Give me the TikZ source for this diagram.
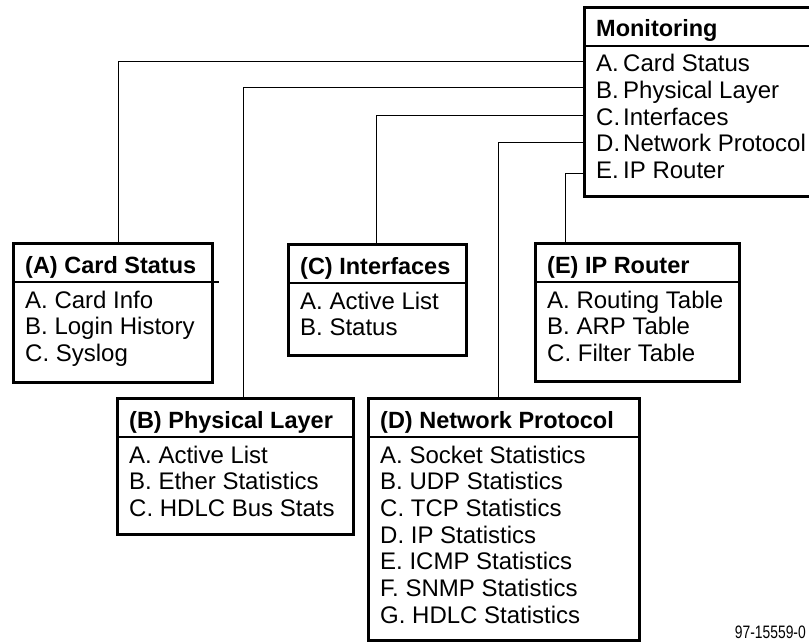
\documentclass[tikz,border=0pt]{standalone}
\usepackage{fontspec}
\setmainfont{Liberation Sans}
\begin{document}
\begin{tikzpicture}[x=1pt,y=-1pt,
  frame/.style={draw, line width=2.6pt, inner sep=0pt, anchor=north west},
  rule/.style={line width=2.2pt},
  link/.style={line width=1pt},
  head/.style={anchor=base west, inner sep=0pt, font=\fontsize{23.5}{27}\selectfont\bfseries},
  entry/.style={anchor=base west, inner sep=0pt, font=\fontsize{24}{27}\selectfont},
  tag/.style={anchor=base east, inner sep=0pt},
]
\useasboundingbox (0,0) rectangle (809,642);

% box outline with its title bar: name, left, top, width, height, title
\newcommand\menuframe[6]{%
  \node[frame, minimum width=#4pt, minimum height=#5pt] (#1) at (#2,#3) {};
  \draw[rule] ([yshift=-40pt]#1.north west) -- ([yshift=-40pt]#1.north east);
  \node[head] (#1-title) at ([xshift=13pt,yshift=-31pt]#1.north west) {#6};
}
% a titled menu box with its list of entries
\newcommand\menupanel[7]{%
  \menuframe{#1}{#2}{#3}{#4}{#5}{#6}
  \foreach \t [count=\i from 0] in {#7}
    \node[entry] (#1-\i) at ([xshift=13pt,yshift={-66pt-\i*26.7pt}]#1.north west) {\t};
}

% main menu: letters and entry names in two aligned columns
\menuframe{mon}{583}{6}{240}{189}{Monitoring}
\foreach \l/\t [count=\i from 0] in {A./Card Status, B./Physical Layer,
    C./Interfaces, D./Network Protocol, E./IP Router} {
  \node[entry] (mon-l\i) at ([xshift=13pt,yshift={-66pt-\i*26.5pt}]mon.north west) {\l};
  \node[entry] (mon-\i) at ([xshift=40pt,yshift={-66pt-\i*26.5pt}]mon.north west) {\t};
}

\menupanel{A}{12}{242}{199}{139}{(A) Card Status}%
  {A. Card Info, B. Login History, C. Syslog}
\menupanel{B}{116}{397}{236}{136}{(B) Physical Layer}%
  {A. Active List, B. Ether Statistics, C. HDLC Bus Stats}
\menupanel{C}{287}{243}{178}{111}{(C) Interfaces}%
  {A. Active List, B. Status}
\menupanel{D}{367}{397}{271}{242}{(D) Network Protocol}%
  {A. Socket Statistics, B. UDP Statistics, C. TCP Statistics, D. IP Statistics,
   E. ICMP Statistics, F. SNMP Statistics, G. HDLC Statistics}
\menupanel{E}{534}{242}{204}{138}{(E) IP Router}%
  {A. Routing Table, B. ARP Table, C. Filter Table}

% the divider of the card status box runs a little past its right side
\draw[rule] ([yshift=-40pt]A.north east) -- ++(5,0);

% connectors from the main menu to the sub-menus
\draw[link] ([yshift=-56pt]mon.north west) -| ([xshift=106pt]A.north west);
\draw[link] ([yshift=-82pt]mon.north west) -| ([xshift=127pt]B.north west);
\draw[link] ([yshift=-109pt]mon.north west) -| ([xshift=89pt]C.north west);
\draw[link] ([yshift=-136pt]mon.north west) -| ([xshift=131pt]D.north west);
\draw[link] ([yshift=-167pt]mon.north west) -| ([xshift=31pt]E.north west);

\node[tag] (fig) at (806,638) {\scalebox{0.77}[1]{\fontsize{18}{20}\selectfont 97-15559-0}};
\end{tikzpicture}
\end{document}
